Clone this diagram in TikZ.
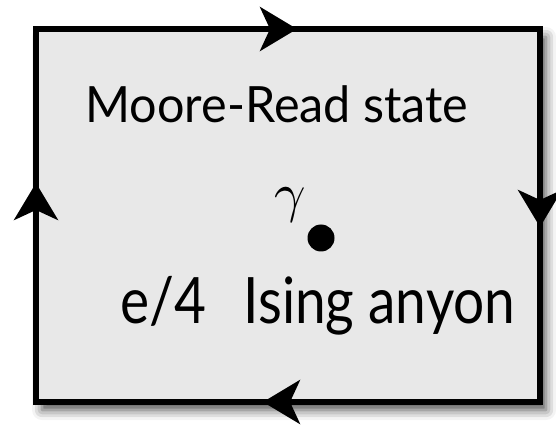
\documentclass[tikz,border=0pt]{standalone}
\usepackage{fontspec}
\setmainfont{Lato}
\newfontfamily\greekfont{Latin Modern Math}
\usepackage{xcolor}
\definecolor{ink}{HTML}{000000}
\definecolor{panel}{HTML}{E8E8E8}
\usetikzlibrary{arrows.meta,shadows.blur}
\tikzset{
  every picture/.style={line width=5.5pt},
  frame/.style={draw=ink, fill=panel, blur shadow={shadow xshift=6pt, shadow yshift=-8pt, shadow blur radius=10pt, shadow opacity=70}},
  flow/.style={-{Stealth[length=37pt, width=44pt, inset=10pt]}, draw=ink},
  label/.style={anchor=base west, inner sep=0pt, text=ink},
}

\begin{document}
\begin{tikzpicture}[x=1pt, y=-1pt]
  \useasboundingbox (0,0) rectangle (556,427);
  \coordinate (nw) at (36,29);
  \coordinate (ne) at (540,29);
  \coordinate (se) at (540,402);
  \coordinate (sw) at (36,402);
  \draw[frame] (nw) rectangle (se);
  % direction of the loop
  \coordinate (tophead) at (297,29);
  \coordinate (righthead) at (540,227);
  \coordinate (bottomhead) at (263,402);
  \coordinate (lefthead) at (36,183);
  \draw[flow] (nw) -- (tophead);
  \draw[flow] (ne) -- (righthead);
  \draw[flow] (se) -- (bottomhead);
  \draw[flow] (sw) -- (lefthead);
  \node[label, xscale=0.97, font=\fontsize{50}{60}\selectfont] (state) at (83,123) {Moore-Read state};
  \node[text=ink, inner sep=0pt, font=\greekfont\fontsize{55}{66}\selectfont] (gamma) at (289,205) {𝛾};
  \node[circle, fill=ink, inner sep=0pt, minimum size=27pt] (anyon) at (321,238) {};
  \node[label, xscale=0.86, font=\fontsize{64}{77}\selectfont] (charge) at (118,323) {e/4\ \ \,Ising anyon};
\end{tikzpicture}
\end{document}
